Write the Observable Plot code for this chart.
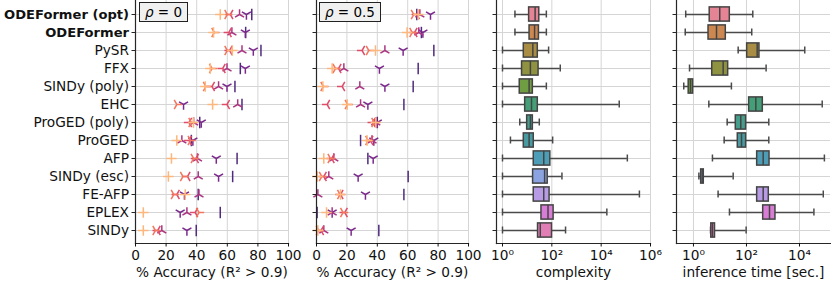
<!DOCTYPE html>
<html><head><meta charset="utf-8">
<script src="https://cdn.jsdelivr.net/npm/d3@7"></script>
<script src="https://cdn.jsdelivr.net/npm/@observablehq/plot@0.6"></script>
<style>
body{margin:0;background:#fff;}
#wrap{position:relative;width:831px;height:282px;overflow:hidden;font-family:"DejaVu Sans",sans-serif;background:#fff;}
.panel{position:absolute;top:0;}
.panel svg{overflow:visible;background:transparent !important;}
.rho{position:absolute;top:2px;height:20px;border:1px solid #222;background:#f0f0f0;font:13.5px "DejaVu Sans",sans-serif;line-height:18px;padding:0 5px;box-sizing:border-box;white-space:nowrap;}
</style></head><body><div id="wrap"></div>
<script>
// ---- data ----
const methods = ["ODEFormer (opt)", "ODEFormer", "PySR", "FFX", "SINDy (poly)", "EHC", "ProGED (poly)", "ProGED", "AFP", "SINDy (esc)", "FE-AFP", "EPLEX", "SINDy"];
const boldMethods = ["ODEFormer (opt)", "ODEFormer"];
const noiseLevels = [0, 0.01, 0.02, 0.03, 0.04, 0.05];
const rhoLabels = ["0", "0.5"];

// % accuracy, rho = 0, one array per noise level
const rho0_sigma0    = [76, 72, 82, 68.5, 65, 69.6, 42, 36.5, 66.4, 63.5, 41, 55.4, 39.7];
const rho0_sigma001  = [72.5, 71.8, 77, 71.8, 59.8, 31.4, 43, 37.5, 52.8, 54.3, 32, 29.2, 33.6];
const rho0_sigma002  = [68, 63, 69.6, 59.8, 54.3, 66.8, 38, 30.3, 40.5, 41, 41.5, 33.6, 17.2];
const rho0_sigma003  = [62, 61, 61.5, 57, 50, 59.8, 35, 35, 39.5, 34, 27, 39, 14.5];
const rho0_sigma004  = [60, 51.5, 60, 50, 46, 27, 36.5, 36, 38, 31, 25, 41.5, 13];
const rho0_sigma005  = [55.4, 51, 63.3, 48.9, 45.6, 50.4, 37.9, 27, 23.5, 21.5, 32.5, 5.1, 5.1];

// % accuracy, rho = 0.5
const rho05_sigma0   = [66, 69, 77.2, 66.9, 63.6, 57.5, 40, 29, 33.8, 60.3, 57.5, 0.4, 41];
const rho05_sigma001 = [75, 70, 57, 41.4, 45, 33.8, 40, 37.7, 37.3, 27.4, 32.2, 10.3, 22.8];
const rho05_sigma002 = [68, 67.3, 45, 18, 28.5, 29, 39, 36.5, 11.4, 8.1, 0.9, 10.3, 4.8];
const rho05_sigma003 = [66, 64.5, 30, 14.5, 16.9, 7, 37, 35.5, 10, 4.8, 15.8, 18.6, 3];
const rho05_sigma004 = [64, 63, 34.4, 12.5, 4.5, 20.5, 38, 34, 9.2, 3.5, 15.5, 17.5, 1.5];
const rho05_sigma005 = [67, 59.6, 38.8, 10.3, 4.2, 20.2, 39, 33.3, 4.8, 0.5, 15.8, 6.6, 0.9];

// complexity box stats
const cxMin = [3.2, 3.2, 1, 1, 1, 1, 5, 2.1, 1, 1, 1, 1, 1];
const cxQ1  = [12, 12.5, 7.3, 6.2, 5, 8.3, 10, 7.3, 18.5, 17.4, 18.5, 38, 27.6];
const cxMed = [21, 20, 17, 13.5, 12, 15, 13.5, 12, 47, 51, 47, 70, 34];
const cxQ3  = [31, 30, 27, 29, 17, 27, 17, 18.5, 87, 68, 81, 118, 102];
const cxMax = [60, 60, 74, 220, 60, 54000, 31, 108, 115000, 257, 355000, 17000, 360];

// inference time box stats [sec.]
const tMin = [0.51, 0.49, 48.6, 0.71, 0.43, 3.8, 18.7, 14.4, 5.2, 1.6, 8.5, 22.8, 4.4];
const tQ1  = [4.1, 3.7, 106, 5.1, 0.66, 126, 39.5, 47, 253, 1.95, 253, 427, 4.7];
const tMed = [9.8, 7.4, 253, 13.2, 0.77, 225, 61, 65, 427, 2.13, 427, 740, 5.2];
const tQ3  = [23.5, 16.6, 309, 20.4, 0.97, 413, 97, 97, 740, 2.45, 695, 1240, 6.5];
const tMax = [173, 158, 15800, 550, 27, 72000, 695, 695, 87000, 31.5, 79000, 35000, 97];

const accTicks = [0, 20, 40, 60, 80, 100];
const cxTicks = [1, 100, 1e4, 1e6];
const tTicks = [1, 100, 1e4];

// ---- styles ----
const FS = 13.7;
const noiseColors = ["#4f2a80", "#7b2a8c", "#ab3582", "#de4d6a", "#f2775e", "#fdb67b"];
const huslColors = ["#f77189", "#e5853a", "#bd9632", "#9ca231", "#6fae31", "#33b07a", "#35ae95", "#37abb2", "#39a7cc", "#7a9df2", "#b38cf4", "#ea6be6", "#f56bb8"];
const boxColors = huslColors.map(c => { const h = d3.hsl(c); h.s *= 0.72; return h.formatHex(); });

function sym(fn) { return {draw(ctx, size) { const r = Math.sqrt(size / Math.PI); fn(ctx, r); }}; }
function spoke(c, x, y) { c.moveTo(0, 0); c.lineTo(x, y); }
const vline = sym((c, r) => { c.moveTo(0, -r * 1.1); c.lineTo(0, r * 1.1); });
const triDown = sym((c, r) => { spoke(c, 0, r); spoke(c, -0.866 * r, -0.5 * r); spoke(c, 0.866 * r, -0.5 * r); });
const triUp = sym((c, r) => { spoke(c, 0, -r); spoke(c, -0.866 * r, 0.5 * r); spoke(c, 0.866 * r, 0.5 * r); });
const triLeft = sym((c, r) => { spoke(c, -r, 0); spoke(c, 0.5 * r, -0.866 * r); spoke(c, 0.5 * r, 0.866 * r); });
const triRight = sym((c, r) => { spoke(c, r, 0); spoke(c, -0.5 * r, -0.866 * r); spoke(c, -0.5 * r, 0.866 * r); });
const plus = sym((c, r) => { c.moveTo(-r, 0); c.lineTo(r, 0); c.moveTo(0, -r); c.lineTo(0, r); });
const noiseSymbols = [vline, triDown, triUp, triLeft, triRight, plus];

const H = 282, MT = 0, MB = 39;
const gridColor = "#d5d5d5";
const spine = "#262626";
const sup = {"0": "⁰", "1": "¹", "2": "²", "3": "³", "4": "⁴", "5": "⁵", "6": "⁶"};
const logFmt = d => "10" + String(Math.round(Math.log10(d))).split("").map(ch => sup[ch]).join("");

const wrap = document.getElementById("wrap");
function place(el, left) { const d = document.createElement("div"); d.className = "panel"; d.style.left = left + "px"; d.appendChild(el); wrap.appendChild(d); return d; }

function yAxis(withLabels) {
  return Plot.axisY({tickSize: 3.5, tickPadding: 3, fontSize: FS, label: null, stroke: spine, strokeWidth: 1,
    tickFormat: withLabels ? (d => d) : (() => "")});
}

function accPanel(series, left, width, ml, mr, withLabels) {
  const marks = [
    Plot.gridX(accTicks, {stroke: gridColor, strokeOpacity: 1, strokeWidth: 1}),
    Plot.gridY(methods, {stroke: gridColor, strokeOpacity: 1, strokeWidth: 1}),
  ];
  series.forEach((arr, k) => {
    const rows = methods.map((m, i) => ({method: m, acc: arr[i]}));
    marks.push(Plot.dot(rows, {x: "acc", y: "method", symbol: noiseSymbols[k], r: 5.2, stroke: noiseColors[k], fill: "none", strokeWidth: 1.5}));
  });
  marks.push(
    Plot.frame({anchor: "left", stroke: spine, strokeWidth: 1.2}),
    Plot.frame({anchor: "bottom", stroke: spine, strokeWidth: 1.2}),
    yAxis(withLabels),
    Plot.axisX(accTicks, {tickSize: 3.5, tickPadding: 3, fontSize: FS, label: "% Accuracy (R² > 0.9)", labelAnchor: "center", labelOffset: 33, labelArrow: "none"})
  );
  const p = Plot.plot({
    width, height: H, marginLeft: ml, marginRight: mr, marginTop: MT, marginBottom: MB,
    style: {fontFamily: "DejaVu Sans, sans-serif", fontSize: FS + "px", color: "#111", background: "transparent", overflow: "visible"},
    x: {domain: [0, 100]},
    y: {type: "band", domain: methods, padding: 0},
    marks
  });
  return place(p, left);
}

function boxPanel(stats, ticks, domain, label, left, width, ml, mr) {
  const rows = methods.map((m, i) => ({method: m, min: stats[0][i], q1: stats[1][i], med: stats[2][i], q3: stats[3][i], max: stats[4][i]}));
  const p = Plot.plot({
    width, height: H, marginLeft: ml, marginRight: mr, marginTop: MT, marginBottom: MB,
    style: {fontFamily: "DejaVu Sans, sans-serif", fontSize: FS + "px", color: "#111", background: "transparent", overflow: "visible"},
    x: {type: "log", domain},
    y: {type: "band", domain: methods, padding: 0},
    color: {domain: methods, range: boxColors},
    marks: [
      Plot.gridX(ticks, {stroke: gridColor, strokeOpacity: 1, strokeWidth: 1}),
      Plot.gridY(methods, {stroke: gridColor, strokeOpacity: 1, strokeWidth: 1}),
      Plot.ruleY(rows, {y: "method", x1: "min", x2: "max", stroke: "#4a4a4a", strokeWidth: 1.5}),
      Plot.tickX(rows, {x: "min", y: "method", insetTop: 5.5, insetBottom: 5.5, stroke: "#4a4a4a", strokeWidth: 1.5}),
      Plot.tickX(rows, {x: "max", y: "method", insetTop: 5.5, insetBottom: 5.5, stroke: "#4a4a4a", strokeWidth: 1.5}),
      Plot.barX(rows, {x1: "q1", x2: "q3", y: "method", fill: "method", insetTop: 1.9, insetBottom: 1.9, stroke: "#444", strokeWidth: 1.5}),
      Plot.tickX(rows, {x: "med", y: "method", insetTop: 1.9, insetBottom: 1.9, stroke: "#444", strokeWidth: 1.5}),
      Plot.frame({anchor: "left", stroke: spine, strokeWidth: 1.2}),
      Plot.frame({anchor: "bottom", stroke: spine, strokeWidth: 1.2}),
      yAxis(false),
      Plot.axisX(ticks, {tickSize: 3.5, tickPadding: 3, fontSize: FS, tickFormat: logFmt, label, labelAnchor: "center", labelOffset: 33, labelArrow: "none"})
    ]
  });
  return place(p, left);
}

const p1 = accPanel([rho0_sigma0, rho0_sigma001, rho0_sigma002, rho0_sigma003, rho0_sigma004, rho0_sigma005], 0, 300, 135, 12, true);
const p2 = accPanel([rho05_sigma0, rho05_sigma001, rho05_sigma002, rho05_sigma003, rho05_sigma004, rho05_sigma005], 290, 190, 26, 12, false);
boxPanel([cxMin, cxQ1, cxMed, cxQ3, cxMax], cxTicks, [Math.pow(10, -0.243), 1e6], "complexity", 480, 180, 16, 10);
boxPanel([tMin, tQ1, tMed, tQ3, tMax], tTicks, [Math.pow(10, -0.64), Math.pow(10, 5.17)], "inference time [sec.]", 660, 171, 16, 1);

// bold the ODEFormer labels (slightly smaller so they fit the left edge)
d3.select(p1).selectAll("g[aria-label='y-axis tick label'] text").each(function() {
  if (boldMethods.includes(this.textContent)) d3.select(this).attr("font-weight", "bold").attr("font-size", 13.1);
});

// rho boxes
[[139, rhoLabels[0]], [319, rhoLabels[1]]].forEach(([left, v]) => {
  const b = document.createElement("div");
  b.className = "rho";
  b.style.left = left + "px";
  b.innerHTML = "<i>ρ</i> = " + v;
  wrap.appendChild(b);
});
</script></body></html>
